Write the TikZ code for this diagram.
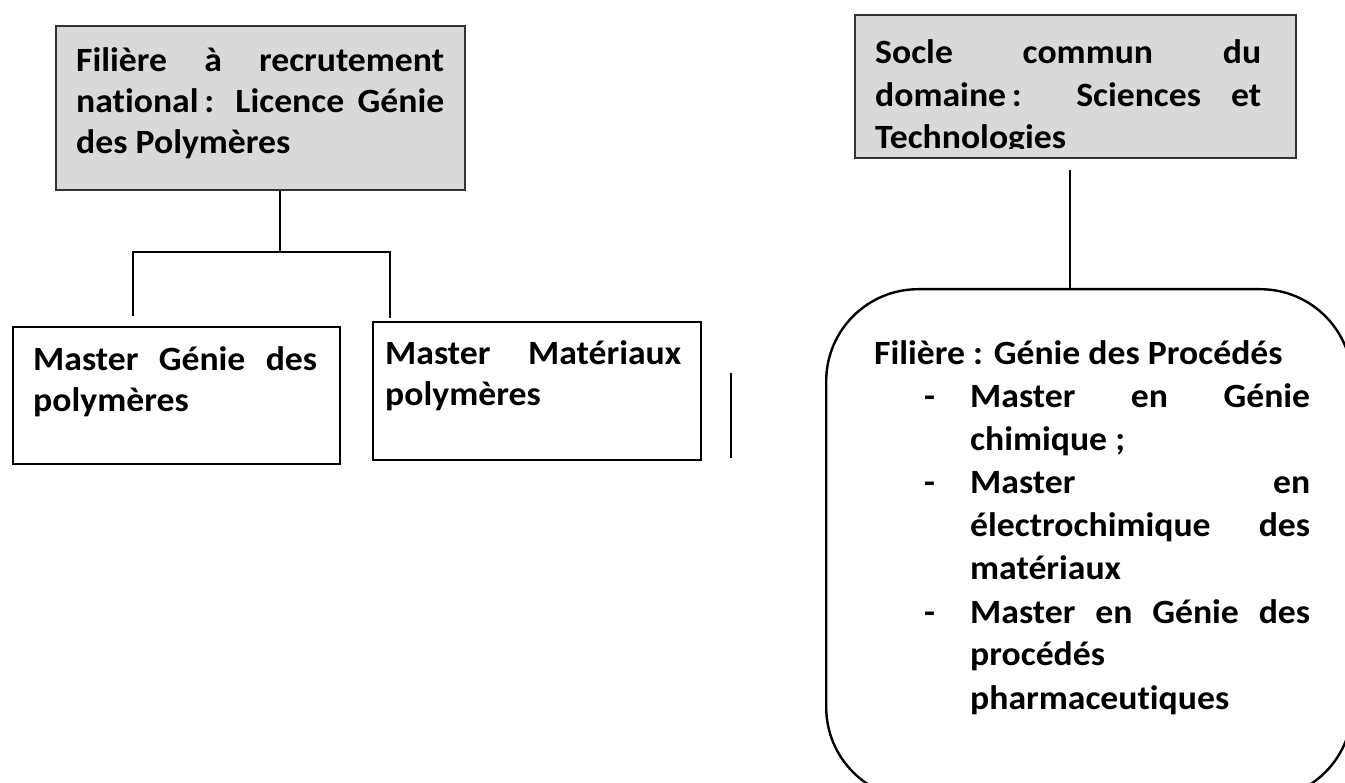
\documentclass[tikz,border=0pt]{standalone}
\usepackage{fontspec}
\setmainfont{Carlito}[FakeStretch=1.05, Ligatures=NoCommon]
\usetikzlibrary{positioning}

\definecolor{boxgrey}{HTML}{D9D9D9}
% one justified line inside a parbox
\newcommand{\jl}[1]{\makebox[\linewidth][s]{#1}\\}

\begin{document}
\begin{tikzpicture}[x=1pt, y=-1pt,
    every node/.style={font=\fontsize{34}{41}\selectfont\bfseries},
    greybox/.style={draw=black!80, fill=boxgrey, line width=2.2pt,
      anchor=north west, inner sep=0pt},
    whitebox/.style={draw=black, line width=2.4pt, anchor=north west, inner sep=0pt},
    txt/.style={anchor=base west, inner sep=0pt},
    listtxt/.style={txt, font=\fontsize{34}{43}\selectfont\bfseries},
    link/.style={line width=2pt},
  ]
  \useasboundingbox (0,0) rectangle (1345,783);
  \clip (0,0) rectangle (1345,783);
  \fill[white] (0,0) rectangle (1345,783);

  % left branch
  \node[greybox, minimum width=409, minimum height=164] (licence) at (55,25) {};
  \node[txt] (licencetxt) at (76,72)
    {\parbox[t]{368pt}{\jl{Filière à recrutement}\jl{national\,: Licence Génie}des Polymères}};
  \node[whitebox, minimum width=327, minimum height=137] (mgp) at (12,326) {};
  \node[txt] (mgptxt) at (33,371) {\parbox[t]{284pt}{\jl{Master Génie des}polymères}};
  \node[whitebox, minimum width=328, minimum height=138] (mmp) at (372,321) {};
  \node[txt] (mmptxt) at (385,365) {\parbox[t]{296pt}{\jl{Master Matériaux}polymères}};

  \coordinate (fork) at (280,252);
  \coordinate (forkL) at (133,252);
  \coordinate (forkR) at (390,252);
  \coordinate (endL) at (133,316);
  \coordinate (endR) at (390,318);
  \draw[link] (licence.south -| fork) -- (fork);
  \draw[link] (endL) -- (forkL) -- (forkR) -- (endR);
  \coordinate (straytop) at (731,373);
  \coordinate (straybot) at (731,458);
  \draw[link] (straytop) -- (straybot);

  % right branch
  \node[greybox, minimum width=441, minimum height=143] (socle) at (854,14) {};
  \begin{scope}
    \clip (socle.north west) rectangle ([yshift=11pt]socle.south east);
    \node[txt, font=\fontsize{34}{42.5}\selectfont\bfseries] (socletxt) at (875,64)
      {\parbox[t]{386pt}{\jl{Socle commun du}\jl{domaine\,: Sciences et}Technologies}};
  \end{scope}

  \node[whitebox, rounded corners=92pt, minimum width=526, minimum height=510] (procedes) at (825,288) {};
  \coordinate (soclefoot) at (1070,170);
  \draw[link] (soclefoot) -- (soclefoot |- procedes.north);

  \node[listtxt] (filiere) at (874,365) {Filière : Génie des Procédés};
  \node[listtxt] (dasha) at (924,408) {-};
  \node[listtxt] (itema) at (970,408) {\parbox[t]{340pt}{\jl{Master en Génie}chimique ;}};
  \node[listtxt] (dashb) at (924,494) {-};
  \node[listtxt] (itemb) at (970,494)
    {\parbox[t]{340pt}{\jl{Master en}\jl{électrochimique des}matériaux}};
  \node[listtxt] (dashc) at (924,623) {-};
  \node[listtxt] (itemc) at (970,623)
    {\parbox[t]{340pt}{\jl{Master en Génie des}procédés\\pharmaceutiques}};
\end{tikzpicture}
\end{document}
